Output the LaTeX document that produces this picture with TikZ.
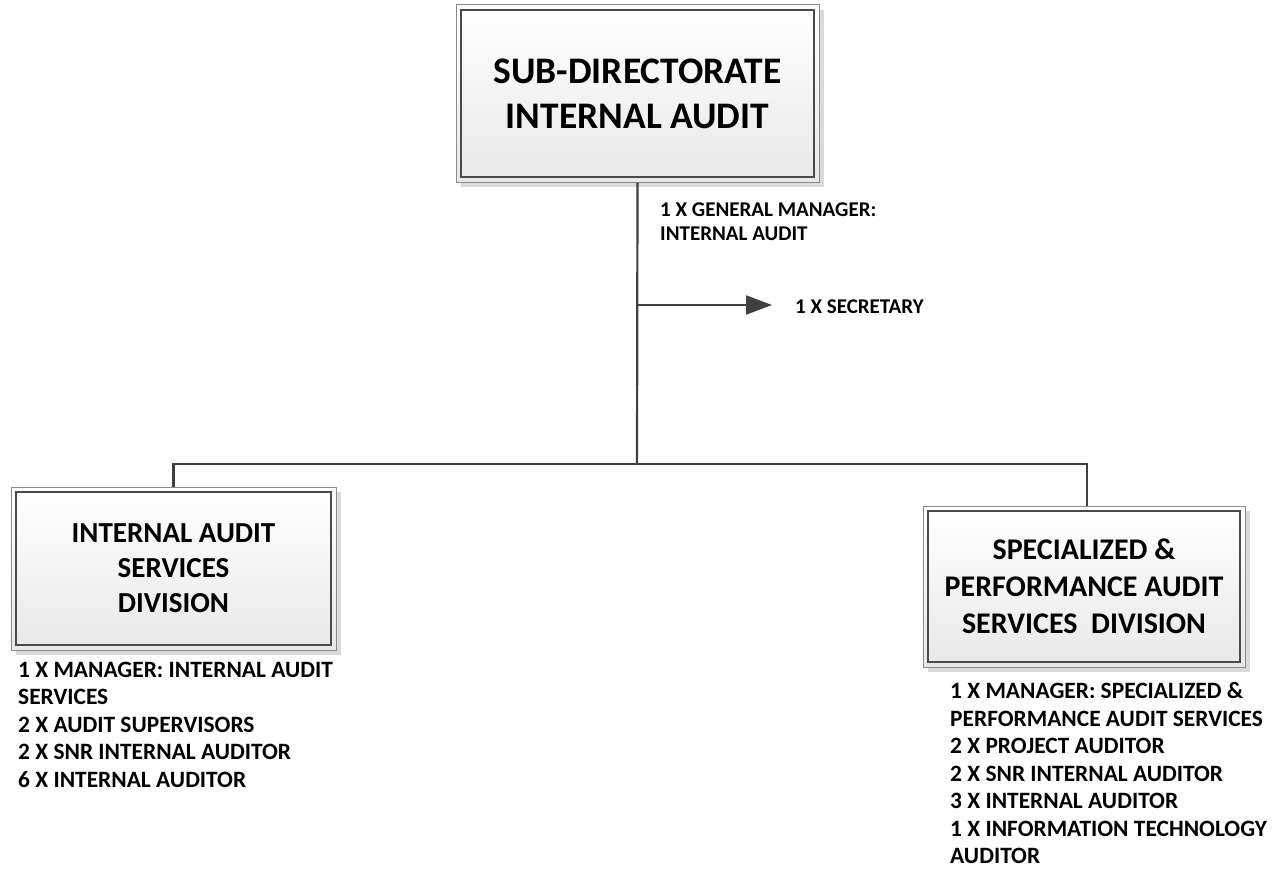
\documentclass[tikz,border=0pt]{standalone}
\usepackage{fontspec}
\setmainfont{Carlito}
\usetikzlibrary{arrows.meta,shadows}
\definecolor{linec}{HTML}{404040}
\definecolor{outerc}{HTML}{8A8A8A}
\definecolor{innerc}{HTML}{4A4A4A}
\definecolor{shadc}{HTML}{DADADA}
\definecolor{botc}{HTML}{E8E8E8}
\tikzset{
  orgbox/.style={rectangle, inner sep=0pt, draw=outerc, line width=1pt,
    top color=white, bottom color=botc, align=center,
    drop shadow={shadow xshift=5pt, shadow yshift=-5pt, fill=shadc, opacity=1},
    path picture={\draw[innerc, line width=1.3pt]
      ([shift={(5pt,-5pt)}]path picture bounding box.north west) rectangle
      ([shift={(-5pt,5pt)}]path picture bounding box.south east);}},
  conn/.style={draw=linec, line width=2.2pt},
  listtxt/.style={inner sep=0pt, align=left, anchor=north west,
    font=\fontsize{23.4}{27.5}\selectfont\bfseries},
  smalltxt/.style={inner sep=0pt, align=left,
    font=\fontsize{21}{24}\selectfont\bfseries}
}
\begin{document}
\begin{tikzpicture}[x=1pt,y=-1pt]
\useasboundingbox[fill=white] (0,0) rectangle (1284,875);

\node[orgbox, minimum width=363pt, minimum height=177pt,
  font=\fontsize{37.5}{45}\selectfont\bfseries] (top) at (637.5,93.5)
  {SUB-DIRECTORATE\\INTERNAL AUDIT};

\node[orgbox, minimum width=325pt, minimum height=163pt,
  font=\fontsize{29}{35}\selectfont\bfseries] (left) at (173.5,568.5)
  {INTERNAL AUDIT\\SERVICES\\DIVISION};

\node[orgbox, minimum width=322pt, minimum height=161pt,
  font=\fontsize{30}{37}\selectfont\bfseries] (right) at (1084,586.5)
  {SPECIALIZED \&\\PERFORMANCE AUDIT\\SERVICES \ DIVISION};

\node[smalltxt, anchor=north west] (gm) at (660,203)
  {1 X GENERAL MANAGER:\\INTERNAL AUDIT};

\node[smalltxt, anchor=west] (sec) at (795,307) {1 X SECRETARY};

\node[listtxt] (llist) at (18,661.5)
  {1 X MANAGER: INTERNAL AUDIT\\SERVICES\\2 X AUDIT SUPERVISORS\\2 X SNR INTERNAL AUDITOR\\6 X INTERNAL AUDITOR};

\node[listtxt] (rlist) at (950,682.5)
  {1 X MANAGER: SPECIALIZED \&\\PERFORMANCE AUDIT SERVICES\\2 X PROJECT AUDITOR\\2 X SNR INTERNAL AUDITOR\\3 X INTERNAL AUDITOR\\1 X INFORMATION TECHNOLOGY\\AUDITOR};

\coordinate (junc) at (637,464);
\coordinate (sb) at (637,305);
\draw[conn] (top.south) -- (junc);
\draw[conn] (junc) -| (left.north);
\draw[conn] (junc) -| ([xshift=3pt]right.north);
\draw[conn, -{Triangle[length=26pt,width=19pt]}] (sb) -- ([xshift=-23pt]sec.west |- sb);
\end{tikzpicture}
\end{document}
